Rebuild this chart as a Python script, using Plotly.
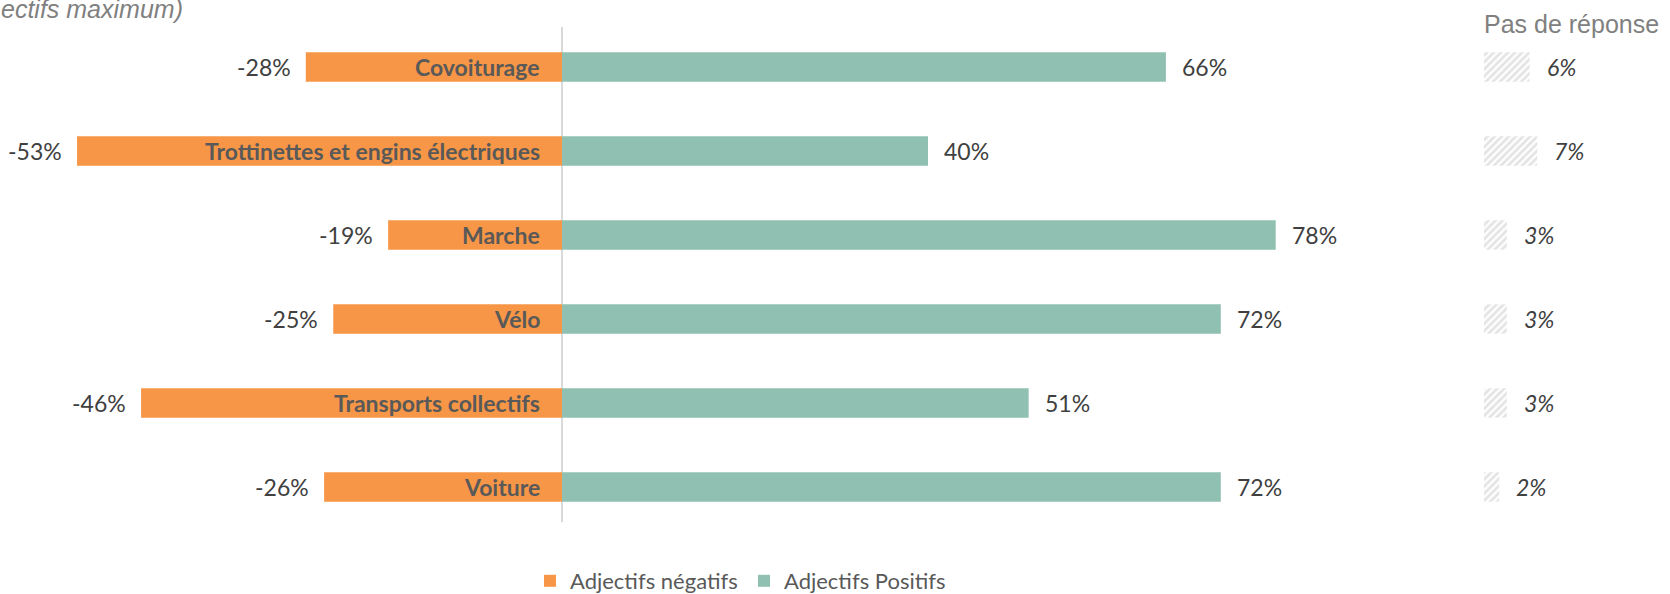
import plotly.graph_objects as go

categories = ["Covoiturage", "Trottinettes et engins électriques", "Marche", "Vélo",
              "Transports collectifs", "Voiture"]
negatifs = [-28, -53, -19, -25, -46, -26]
positifs = [66, 40, 78, 72, 51, 72]
sans_reponse = [6, 7, 3, 3, 3, 2]

ORANGE = "#F79646"
GREEN = "#8FC0B1"
W, H = 1670, 602   # a touch taller than the window so the legend sits at the very bottom

fig = go.Figure()
fig.add_trace(go.Bar(y=categories, x=negatifs, orientation="h", name="Adjectifs négatifs",
                     marker=dict(color=ORANGE, line=dict(width=0)), xaxis="x", yaxis="y"))
fig.add_trace(go.Bar(y=categories, x=positifs, orientation="h", name="Adjectifs Positifs",
                     marker=dict(color=GREEN, line=dict(width=0)), xaxis="x", yaxis="y"))
fig.add_trace(go.Bar(y=categories, x=sans_reponse, orientation="h", name="Pas de réponse",
                     showlegend=False,
                     marker=dict(color="white", line=dict(width=0),
                                 pattern=dict(shape="/", fgcolor="#c9c9c9", bgcolor="white",
                                              size=5, solidity=0.55)),
                     xaxis="x2", yaxis="y"))

ann = []
lab_font = dict(family="Lato", size=23, color="#404040")
for c, n, p, s in zip(categories, negatifs, positifs, sans_reponse):
    ann.append(dict(x=0, y=c, xref="x", yref="y", text="<b>%s</b>" % c, showarrow=False,
                    xanchor="right", xshift=-20,
                    font=dict(family="Lato", size=23, color="#595959")))
    ann.append(dict(x=n, y=c, xref="x", yref="y", text="%d%%" % n, showarrow=False,
                    xanchor="right", xshift=-13, font=lab_font))
    ann.append(dict(x=p, y=c, xref="x", yref="y", text="%d%%" % p, showarrow=False,
                    xanchor="left", xshift=14, font=lab_font))
    ann.append(dict(x=s, y=c, xref="x2", yref="y", text="<i>%d%%</i>" % s, showarrow=False,
                    xanchor="left", xshift=15, font=lab_font))

ann.append(dict(x=185 / W, y=1 - 9 / H, xref="paper", yref="paper", text="<i>ectifs maximum)</i>",
                showarrow=False, xanchor="right", yanchor="middle",
                font=dict(family="Liberation Sans", size=25, color="#808080")))
ann.append(dict(x=1482 / W, y=1 - 24 / H, xref="paper", yref="paper", text="Pas de réponse",
                showarrow=False, xanchor="left", yanchor="middle",
                font=dict(family="Liberation Sans", size=25, color="#808080")))

zero_px = 562
ppp = 9.15
main_right = 0.85 * W
x2_left = 1484
ppp2 = 7.6
top_px, bot_px = 27, 522

fig.update_layout(
    width=W, height=H,
    margin=dict(l=0, r=0, t=0, b=0),
    paper_bgcolor="white", plot_bgcolor="white",
    barmode="relative", bargap=0.65,
    xaxis=dict(domain=[0, 0.85], range=[-zero_px / ppp, (main_right - zero_px) / ppp],
               showgrid=False, showticklabels=False, ticks="",
               zeroline=True, zerolinecolor="#d9d9d9", zerolinewidth=2),
    xaxis2=dict(domain=[x2_left / W, 1], range=[0, (W - x2_left) / ppp2], anchor="y",
                showgrid=False, showticklabels=False, zeroline=False, ticks=""),
    yaxis=dict(domain=[1 - bot_px / H, 1 - top_px / H], autorange=False,
               range=[5.417, -0.476],
               showgrid=False, showticklabels=False, zeroline=False, ticks=""),
    legend=dict(orientation="h", x=530 / W, xanchor="left", y=0, yanchor="bottom",
                font=dict(family="Lato", size=22, color="#595959"),
                bgcolor="rgba(0,0,0,0)", entrywidth=169),
    annotations=ann,
)

fig.write_html("out.html", config={"displayModeBar": False},
               post_script="document.body.style.margin='0';")
